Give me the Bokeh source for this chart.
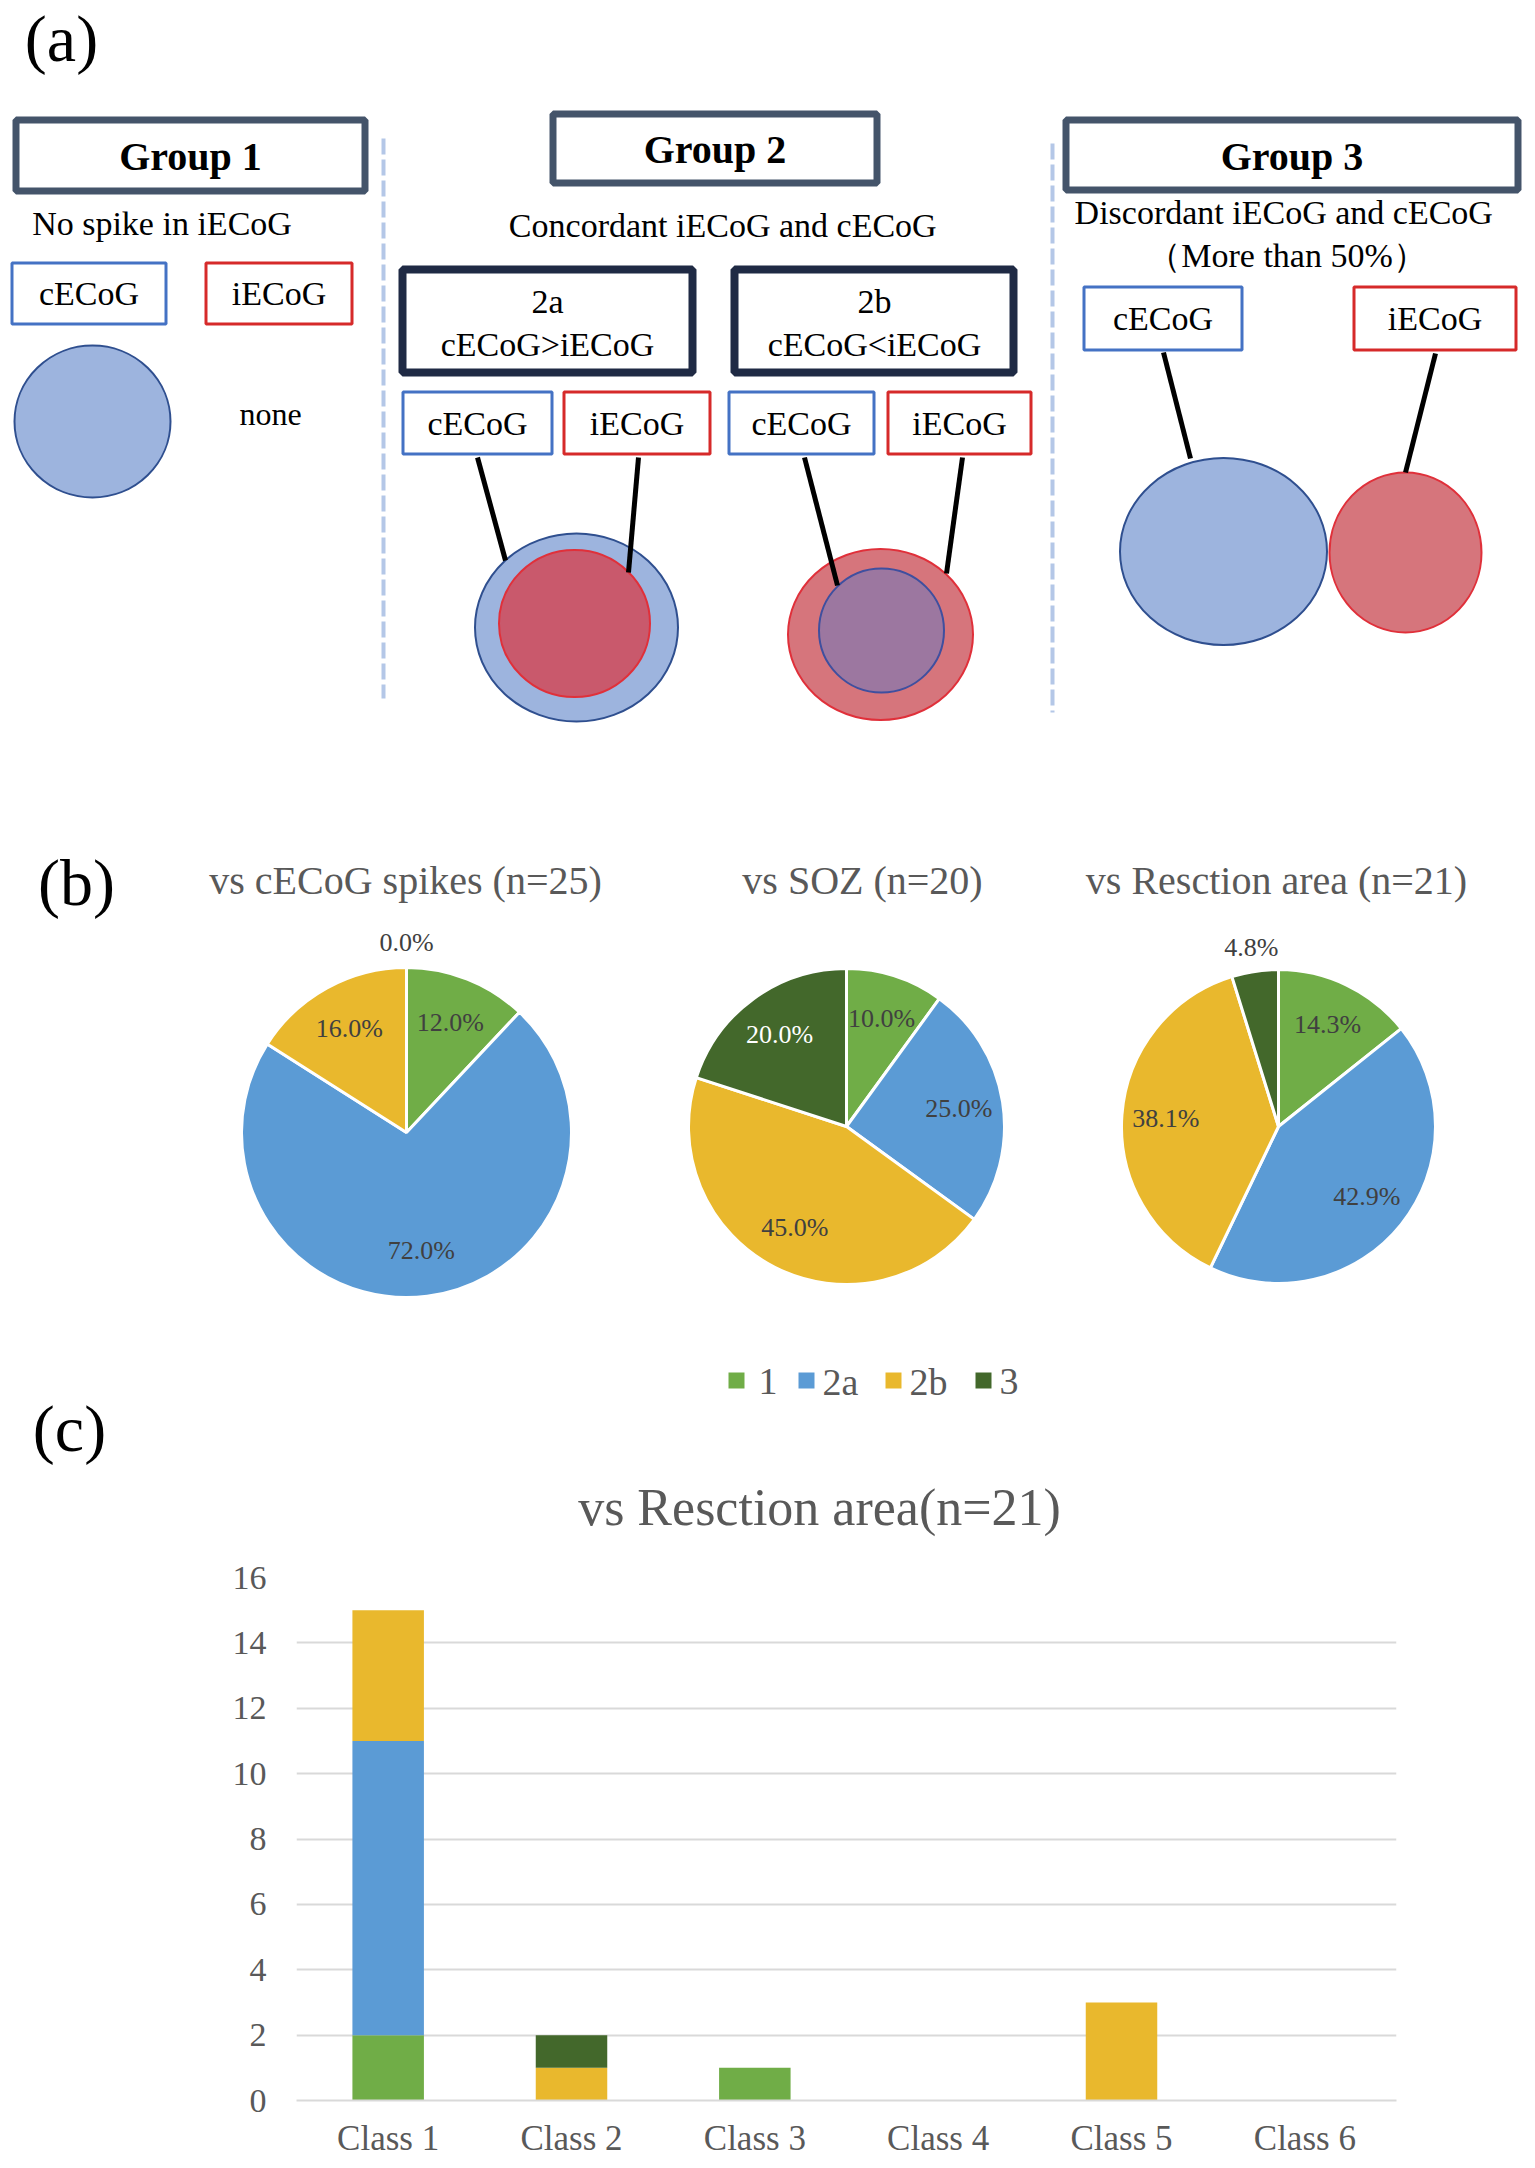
import math
from bokeh.plotting import figure
from bokeh.models import Range1d, ColumnDataSource, FactorRange, FixedTicker
from bokeh.layouts import column
from bokeh.core.properties import value
from bokeh.embed import file_html
from bokeh.resources import INLINE

# ---------------- data ----------------
groups = ["1", "2a", "2b", "3"]
group_colors = ["#70AD47", "#5B9BD5", "#E9B82D", "#43682B"]

pie_titles = ["vs cECoG spikes (n=25)", "vs SOZ (n=20)", "vs Resction area (n=21)"]
pie_cecog = [12.0, 72.0, 16.0, 0.0]
pie_soz = [10.0, 25.0, 45.0, 20.0]
pie_resection = [14.3, 42.9, 38.1, 4.8]

classes = ["Class 1", "Class 2", "Class 3", "Class 4", "Class 5", "Class 6"]
bar_g1 = [2, 0, 1, 0, 0, 0]
bar_g2a = [9, 0, 0, 0, 0, 0]
bar_g2b = [4, 1, 0, 0, 3, 0]
bar_g3 = [0, 1, 0, 0, 0, 0]
y_ticks = [0, 2, 4, 6, 8, 10, 12, 14, 16]
bar_title = "vs Resction area(n=21)"

panel_labels = ["(a)", "(b)", "(c)"]
group_titles = ["Group 1", "Group 2", "Group 3"]
group_subtitles = ["No spike  in  iECoG", "Concordant  iECoG  and  cECoG",
                   "Discordant  iECoG  and  cECoG", "（More  than  50%）"]
sub_titles = ["2a", "cECoG>iECoG", "2b", "cECoG<iECoG"]
small_box_texts = ["cECoG", "iECoG"] * 4

SERIF = value("Liberation Serif")
GREY = "#595959"

# ---------------- figure 1: schematic + pies ----------------
W = 1527
H1 = 1540
p = figure(width=W, height=H1, x_range=Range1d(0, W), y_range=Range1d(-H1, 0),
           output_backend="svg", toolbar_location=None, min_border=0,
           x_axis_location=None, y_axis_location=None, frame_align=False)
p.grid.visible = False
p.outline_line_color = None
p.background_fill_color = "white"


def Y(v):
    return [-a for a in v] if isinstance(v, (list, tuple)) else -v


def boxes(specs, color, lw):
    left = [s[0] + lw / 2 for s in specs]
    right = [s[1] - lw / 2 for s in specs]
    top = [-(s[2] + lw / 2) for s in specs]
    bottom = [-(s[3] - lw / 2) for s in specs]
    cols = color if isinstance(color, list) else [color] * len(specs)
    p.quad(left=left, right=right, top=top, bottom=bottom, fill_color="white",
           line_color=cols, line_width=lw)


# panel labels
p.text(x=[61, 76, 69], y=Y([38, 882, 1428]), text=panel_labels, text_font=SERIF,
       text_font_size="66px", text_align="center", text_baseline="middle", text_color="black")

# dashed separators
p.segment(x0=[383, 1052], y0=Y([138, 143]), x1=[383, 1052], y1=Y([698, 712]),
          line_color="#B4C7E7", line_width=4, line_dash="16 5")

# group boxes
grp_specs = [(12, 368, 116, 194), (549, 880, 110, 186), (1062, 1521, 116, 193)]
boxes(grp_specs, "#44546A", 7)
p.text(x=[(s[0] + s[1]) / 2 for s in grp_specs], y=Y([(s[2] + s[3]) / 2 + 1 for s in grp_specs]),
       text=group_titles, text_font=SERIF, text_font_style="bold", text_font_size="40px",
       text_align="center", text_baseline="middle", text_color="black")

p.text(x=[170, 735, 1296, 1295], y=Y([223, 225, 212, 255]), text=group_subtitles,
       text_font=SERIF, text_font_size="34px", text_align="center", text_baseline="middle",
       text_color="black")

# 2a / 2b boxes
sub_specs = [(398, 696, 265, 376), (730, 1017, 265, 376)]
boxes(sub_specs, "#1F2A44", 8)
p.text(x=[547, 547, 874, 874], y=Y([301, 344, 301, 344]), text=sub_titles, text_font=SERIF,
       text_font_size="34px", text_align="center", text_baseline="middle", text_color="black")

# small cECoG / iECoG boxes
small_specs = [(10, 167, 261, 325), (204, 353, 261, 325),
               (401, 553, 390, 455), (562, 711, 390, 455),
               (727, 875, 390, 455), (886, 1032, 390, 455),
               (1082, 1243, 285, 351), (1352, 1517, 285, 351)]
boxes(small_specs, ["#4472C4", "#D62A2A"] * 4, 3)
p.text(x=[(s[0] + s[1]) / 2 for s in small_specs], y=Y([(s[2] + s[3]) / 2 for s in small_specs]),
       text=small_box_texts, text_font=SERIF, text_font_size="34px", text_align="center",
       text_baseline="middle", text_color="black")

p.text(x=[270], y=Y([413]), text=["none"], text_font=SERIF, text_font_size="32px",
       text_align="center", text_baseline="middle", text_color="black")

# circles (schematic)
BLUE_F, BLUE_L = "#9DB4DE", "#2F4F8F"
RED_F, RED_L = "#D6757C", "#E0303A"
circ = [
    (92, 421, 156, 152, BLUE_F, BLUE_L),
    (576, 627, 203, 188, BLUE_F, BLUE_L),
    (574, 623, 151, 147, "#C9596C", RED_L),
    (880, 634, 185, 171, RED_F, RED_L),
    (881, 630, 125, 124, "#9C77A0", "#3F4F9F"),
    (1223, 551, 207, 187, BLUE_F, BLUE_L),
    (1405, 552, 152, 160, RED_F, RED_L),
]
for cx, cy, w, h, fc, lc in circ:
    p.ellipse(x=cx, y=-cy, width=w, height=h, fill_color=fc, line_color=lc, line_width=2)

# connector lines
segs = [(477, 457, 505, 560), (638, 457, 628, 572), (804, 457, 837, 585),
        (962, 457, 946, 573), (1163, 352, 1190, 458), (1435, 353, 1405, 472)]
p.segment(x0=[s[0] for s in segs], y0=Y([s[1] for s in segs]),
          x1=[s[2] for s in segs], y1=Y([s[3] for s in segs]),
          line_color="black", line_width=5)

# ---------------- pies ----------------
pie_layout = [((406, 1132, 165), (405, 880)),
              ((846, 1126, 158), (862, 880)),
              ((1278, 1126, 157), (1276, 880))]
for vals, ((cx, cy, r), (tx, ty)), title in zip([pie_cecog, pie_soz, pie_resection], pie_layout, pie_titles):
    total = float(sum(vals))
    cum = 0.0
    st, en, cols = [], [], []
    lx, ly, lt, lc = [], [], [], []
    for v, c, g in zip(vals, group_colors, groups):
        a0 = math.pi / 2 - 2 * math.pi * cum / total
        mid = (cum + v / 2) / total
        cum += v
        a1 = math.pi / 2 - 2 * math.pi * cum / total
        if v > 0:
            st.append(a0)
            en.append(a1)
            cols.append(c)
        th = 2 * math.pi * mid
        f = 0.72 if v >= 5 else 1.15
        lx.append(cx + f * r * math.sin(th))
        ly.append(-cy + f * r * math.cos(th))
        lt.append(f"{v:.1f}%")
        lc.append("white" if (g == "3" and v >= 5) else "#404040")
    p.wedge(x=cx, y=-cy, radius=r, start_angle=st, end_angle=en, direction="clock",
            fill_color=cols, line_color="white", line_width=3)
    p.text(x=lx, y=ly, text=lt, text_font=SERIF, text_font_size="26px", text_color=lc,
           text_align="center", text_baseline="middle")
    p.text(x=[tx], y=[-ty], text=[title], text_font=SERIF, text_font_size="40px",
           text_color=GREY, text_align="center", text_baseline="middle")

# legend
leg_sq_x = [736, 806, 893, 983]
leg_tx_x = [758, 822, 909, 999]
p.rect(x=leg_sq_x, y=[-1380] * 4, width=16, height=16, fill_color=group_colors, line_color=None)
p.text(x=leg_tx_x, y=[-1381] * 4, text=groups, text_font=SERIF, text_font_size="38px",
       text_color=GREY, text_align="left", text_baseline="middle")

# bar chart title
p.text(x=[819], y=[-1507], text=[bar_title], text_font=SERIF, text_font_size="52px",
       text_color=GREY, text_align="center", text_baseline="middle")

# ---------------- figure 2: stacked bars ----------------
p2 = figure(width=W, height=620, x_range=FactorRange(*classes), y_range=Range1d(0, 16),
            output_backend="svg", toolbar_location=None, frame_align=False,
            min_border_left=296, min_border_right=131, min_border_top=37, min_border_bottom=60)
src = ColumnDataSource(dict(cls=classes, g1=bar_g1, g2a=bar_g2a, g2b=bar_g2b, g3=bar_g3))
p2.vbar_stack(["g1", "g2a", "g2b", "g3"], x="cls", width=0.39, color=group_colors,
              line_color=None, source=src)
p2.outline_line_color = None
p2.xgrid.grid_line_color = None
p2.ygrid.grid_line_color = "#D9D9D9"
p2.ygrid.grid_line_width = 2
p2.yaxis.ticker = FixedTicker(ticks=y_ticks)
for ax in (p2.xaxis, p2.yaxis):
    ax.major_tick_line_color = None
    ax.minor_tick_line_color = None
    ax.major_label_text_font = "Liberation Serif"
    ax.major_label_text_color = GREY
p2.yaxis.axis_line_color = None
p2.xaxis.axis_line_color = "#D9D9D9"
p2.xaxis.axis_line_width = 2
p2.yaxis.major_label_text_font_size = "34px"
p2.xaxis.major_label_text_font_size = "35px"
p2.yaxis.major_label_standoff = 30
p2.xaxis.major_label_standoff = 18
p2.xaxis.major_tick_in = 0
p2.xaxis.major_tick_out = 0
p2.yaxis.major_tick_in = 0
p2.yaxis.major_tick_out = 0

layout = column(p, p2)
open("out.html", "w").write(file_html(layout, INLINE))
